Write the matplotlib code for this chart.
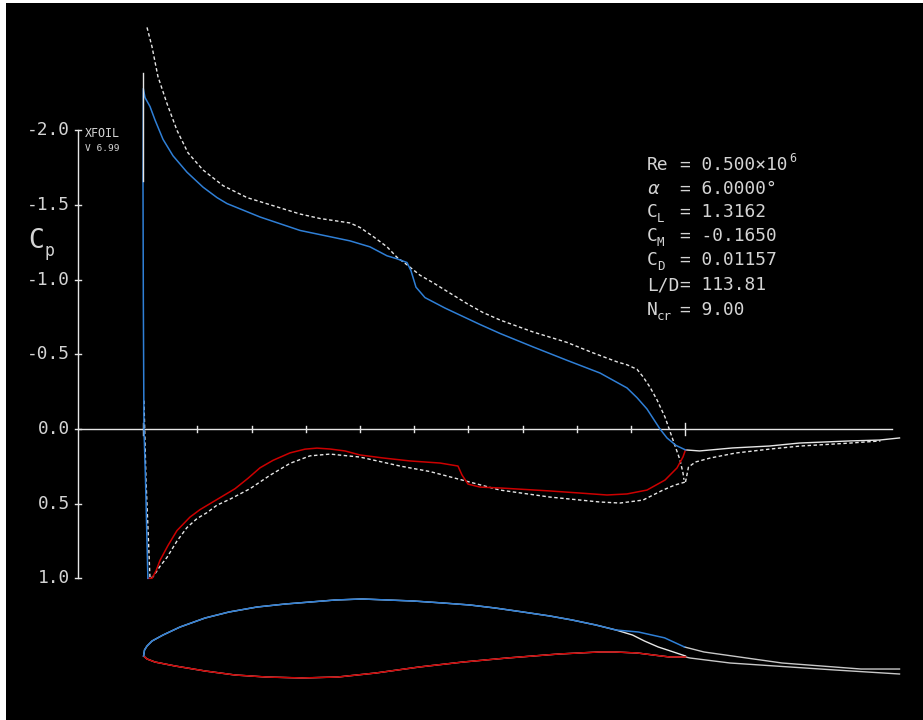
import matplotlib
matplotlib.use('Agg')
import matplotlib.pyplot as plt
import numpy as np

plt.rcParams.update({'font.family': 'DejaVu Sans Mono', 'font.size': 12.9})

# ---- geometry of the XFOIL screen (pixels) ----
W, H = 923, 720
LE_PX, CHORD_PX = 143.0, 542.5       # x/c = 0 at LE_PX, 1 chord = CHORD_PX px
CP0_PX, CP_PX = 429.0, 149.3         # Cp = 0 row and px per unit Cp
FOIL_PX = 656.0                      # y/c = 0 row for the airfoil sketch
BORDER_L, BORDER_T = 6, 3

INK = '#d4d4d4'
BLUE = '#2f7fd6'
RED = '#cc0000'
WHITE = '#e6e6e6'

# ---- Cp data (x/c, Cp) ----
# upper surface, viscous (blue)
up_x = [0.009, 0.0046, 0.0018, 0.0006, 0.0, 0.0006, 0.0037, 0.0129, 0.0221,
        0.0369, 0.0553, 0.0811, 0.1106, 0.1364, 0.1548, 0.2157, 0.2894, 0.3816,
        0.4184, 0.4498, 0.4682, 0.4866, 0.4940, 0.5032, 0.5198, 0.5567, 0.6212,
        0.6581, 0.7189, 0.7816, 0.8424, 0.8922, 0.9106, 0.9290, 0.9530, 0.9659,
        0.9825, 1.0]
up_cp = [1.0, 0.34, 0.0, -0.87, -1.66, -2.28, -2.22, -2.16, -2.07, -1.94, -1.83,
         -1.72, -1.62, -1.55, -1.51, -1.42, -1.33, -1.26, -1.22, -1.16, -1.14,
         -1.115, -1.06, -0.95, -0.88, -0.81, -0.70, -0.64, -0.55, -0.46, -0.375,
         -0.275, -0.21, -0.134, 0.0, 0.06, 0.11, 0.14]
# lower surface, viscous (red)
lo_x = [0.009, 0.0166, 0.0240, 0.0313, 0.0461, 0.0627, 0.0866, 0.1051, 0.1420,
        0.1696, 0.1936, 0.2157, 0.2396, 0.2710, 0.2986, 0.3207, 0.3447, 0.3724,
        0.4000, 0.4424, 0.4921, 0.5475, 0.5806, 0.5880, 0.5991, 0.6212, 0.6581,
        0.7502, 0.8055, 0.8553, 0.8922, 0.9290, 0.9622, 0.9843, 0.9954, 1.0]
lo_cp = [1.0, 1.0, 0.95, 0.88, 0.78, 0.68, 0.59, 0.54, 0.46, 0.40, 0.33, 0.26,
         0.21, 0.16, 0.135, 0.128, 0.134, 0.147, 0.174, 0.194, 0.214, 0.228,
         0.248, 0.308, 0.369, 0.389, 0.395, 0.415, 0.429, 0.442, 0.435, 0.409,
         0.342, 0.261, 0.187, 0.14]
# wake, viscous (white)
wk_x = [1.0, 1.0258, 1.0866, 1.1548, 1.2101, 1.3023, 1.3576, 1.3945]
wk_cp = [0.14, 0.147, 0.127, 0.114, 0.094, 0.080, 0.074, 0.060]
# inviscid upper (dashed)
iu_x = [0.0074, 0.0166, 0.0276, 0.0442, 0.0627, 0.0829, 0.1106, 0.1475, 0.1917,
        0.2894, 0.3263, 0.3816, 0.4000, 0.4240, 0.4498, 0.4682, 0.4866, 0.5106,
        0.5346, 0.5659, 0.5972, 0.6267, 0.6581, 0.7189, 0.7816, 0.8295, 0.8737,
        0.8922, 0.9106, 0.9217, 0.9346, 0.9475, 0.9622, 0.9770, 0.9899, 0.9954,
        0.9972]
iu_cp = [-2.69, -2.56, -2.36, -2.18, -2.00, -1.85, -1.735, -1.63, -1.55, -1.44,
         -1.41, -1.38, -1.35, -1.29, -1.22, -1.15, -1.10, -1.03, -0.98, -0.91,
         -0.84, -0.78, -0.73, -0.65, -0.58, -0.51, -0.45, -0.43, -0.40, -0.35,
         -0.28, -0.195, -0.08, 0.074, 0.208, 0.295, 0.34]
# inviscid lower (dashed)
il_x = [0.0018, 0.0055, 0.0129, 0.0184, 0.0313, 0.0442, 0.0627, 0.0811, 0.0995,
        0.1180, 0.1364, 0.1604, 0.1972, 0.2341, 0.2710, 0.3078, 0.3447, 0.4000,
        0.4737, 0.5290, 0.6581, 0.7502, 0.8424, 0.8792, 0.9217, 0.9585, 0.9806, 1.0]
il_cp = [-0.19, 0.34, 1.0, 0.99, 0.92, 0.86, 0.75, 0.66, 0.60, 0.56, 0.51, 0.47,
         0.40, 0.31, 0.23, 0.18, 0.168, 0.188, 0.248, 0.285, 0.409, 0.456, 0.489,
         0.496, 0.476, 0.409, 0.375, 0.355]
# inviscid wake (dashed)
iw_x = [1.0, 1.0055, 1.0184, 1.0460, 1.0922, 1.1566, 1.2120, 1.3041, 1.3594]
iw_cp = [0.355, 0.255, 0.221, 0.194, 0.161, 0.134, 0.114, 0.094, 0.080]
# leading-edge spike (white)
spike_x = [0.0, 0.0]
spike_cp = [-2.385, -1.66]

# ---- airfoil + displacement surfaces (x/c, y/c) ----
fu_x = [0.0011, 0.0028, 0.0074, 0.0166, 0.0369, 0.0682, 0.1143, 0.1585, 0.2102,
        0.2618, 0.3078, 0.3539, 0.4037, 0.4516, 0.4977, 0.5530, 0.6028, 0.6488,
        0.7005, 0.7502, 0.7908, 0.8350, 0.8719, 0.9023, 0.9244, 0.9498, 0.9724, 1.0]
fu_y = [0.0, 0.0111, 0.0184, 0.0276, 0.0387, 0.0534, 0.0700, 0.0811, 0.0903,
        0.0958, 0.0995, 0.1032, 0.1051, 0.1032, 0.1014, 0.0977, 0.0940, 0.0885,
        0.0811, 0.0737, 0.0664, 0.0571, 0.0479, 0.0387, 0.0276, 0.0166, 0.0092, 0.0]
ds_x = [0.8719, 0.9134, 0.9613, 0.9982]       # upper displacement surface near TE
ds_y = [0.0479, 0.0442, 0.0335, 0.0166]
fl_x = [0.0011, 0.0074, 0.0221, 0.0590, 0.1143, 0.1696, 0.2267, 0.2931, 0.3594,
        0.4295, 0.5088, 0.5899, 0.6710, 0.7668, 0.8406, 0.8700, 0.9115, 0.9410,
        0.9705, 1.0]
fl_y = [0.0, -0.0055, -0.0111, -0.0184, -0.0276, -0.0350, -0.0387, -0.0405,
        -0.0387, -0.0313, -0.0203, -0.0111, -0.0037, 0.0037, 0.0074, 0.0074,
        0.0055, 0.0018, -0.0018, -0.0018]
wu_x = [0.9982, 1.0341, 1.1779, 1.3235, 1.3945]   # wake, upper line
wu_y = [0.0166, 0.0074, -0.0129, -0.0240, -0.0240]
wl_x = [1.0, 1.0083, 1.0820, 1.2756, 1.3945]      # wake, lower line
wl_y = [-0.0018, -0.0037, -0.0129, -0.0258, -0.0332]

# ---- tick data ----
cp_ticks = [-2.0, -1.5, -1.0, -0.5, 0.0, 0.5, 1.0]
cp_tick_labels = ['-2.0', '-1.5', '-1.0', '-0.5', '0.0', '0.5', '1.0']
xc_ticks = np.round(np.arange(0, 1.01, 0.1), 1)


def bare(a):
    a.set_xticks([]); a.set_yticks([])
    for s in a.spines.values():
        s.set_visible(False)


# ---- figure ----
fig = plt.figure(figsize=(W / 100, H / 100), dpi=100, facecolor='white')
pos = [BORDER_L / W, 0, (W - BORDER_L) / W, (H - BORDER_T) / H]
ax = fig.add_axes(pos, facecolor='black')
ax.set_xlim((BORDER_L - LE_PX) / CHORD_PX, (W - LE_PX) / CHORD_PX)
ax.set_ylim((H - CP0_PX) / CP_PX, (BORDER_T - CP0_PX) / CP_PX)
bare(ax)

af = fig.add_axes(pos, facecolor='none')
af.set_xlim(ax.get_xlim())
af.set_ylim((FOIL_PX - H) / CHORD_PX, (FOIL_PX - BORDER_T) / CHORD_PX)
bare(af)

px = lambda n: n / CP_PX      # px -> Cp units
pxx = lambda n: n / CHORD_PX  # px -> x/c units

# axes
ax_x = (78 - LE_PX) / CHORD_PX
ax.plot([ax_x, ax_x], [cp_ticks[0], cp_ticks[-1]], color=WHITE, lw=1.0)
for t, lab in zip(cp_ticks, cp_tick_labels):
    ax.plot([ax_x - pxx(3), ax_x + pxx(3)], [t, t], color=WHITE, lw=1.0)
    ax.text(ax_x - pxx(8), t, lab, ha='right', va='center', color=INK, fontsize=12.9)
ax.plot([ax_x, (892 - LE_PX) / CHORD_PX], [0, 0], color=WHITE, lw=1.0)
for t in xc_ticks:
    h = 6 if t in (0.0, 1.0) else 3
    ax.plot([t, t], [-px(h), px(h)], color=WHITE, lw=1.0)

ax.text(ax_x - pxx(50), -1.26, 'C', ha='left', va='center', color=INK, fontsize=19)
ax.text(ax_x - pxx(34), -1.19, 'p', ha='left', va='center', color=INK, fontsize=12)
ax.text(ax_x + pxx(7), -1.98, 'XFOIL', ha='left', va='center', color=INK, fontsize=8.4)
ax.text(ax_x + pxx(7), -1.88, 'V 6.99', ha='left', va='center', color=INK, fontsize=6.8)

# Cp curves
dash = dict(color=WHITE, lw=1.0, dashes=(2.5, 1.8))
ax.plot(iu_x, iu_cp, **dash)
ax.plot(il_x, il_cp, **dash)
ax.plot(iw_x, iw_cp, **dash)
ax.plot(wk_x, wk_cp, color=WHITE, lw=1.0)
ax.plot(lo_x, lo_cp, color=RED, lw=1.1)
ax.plot(up_x, up_cp, color=BLUE, lw=1.1)
ax.plot(spike_x, spike_cp, color=WHITE, lw=1.0)

# airfoil: white geometry underneath, blue/red displacement surfaces on top
af.plot(wu_x, wu_y, color='#c8c8c8', lw=1.0)
af.plot(wl_x, wl_y, color='#c8c8c8', lw=1.0)
af.plot(fu_x, fu_y, color=WHITE, lw=1.0)
af.plot(fl_x, fl_y, color=WHITE, lw=1.0)
af.plot(fl_x, fl_y, color=RED, lw=1.1)
af.plot(fu_x[:-5] + ds_x, fu_y[:-5] + ds_y, color=BLUE, lw=1.1)

# operating-point block
rows_y = [165, 189, 212, 236, 260, 285, 310]
labels = ['Re', r'$\alpha$', 'C', 'C', 'C', 'L/D', 'N']
subs = ['', '', 'L', 'M', 'D', '', 'cr']
values = ['0.500×10', '6.0000°', '1.3162', '-0.1650', '0.01157', '113.81', '9.00']
lx = (647 - LE_PX) / CHORD_PX
ex = (680 - LE_PX) / CHORD_PX
for yy, lab, sub, val in zip(rows_y, labels, subs, values):
    cy = (yy - CP0_PX) / CP_PX
    ax.text(lx, cy, lab, ha='left', va='center', color=INK, fontsize=12.9)
    if sub:
        ax.text(lx + pxx(10), cy + px(6), sub, ha='left', va='center', color=INK, fontsize=9)
    ax.text(ex, cy, '= ' + val, ha='left', va='center', color=INK, fontsize=12.9)
ax.text((789 - LE_PX) / CHORD_PX, (158 - CP0_PX) / CP_PX, '6', ha='left',
        va='center', color=INK, fontsize=8.5)

fig.savefig('out.png', dpi=100, facecolor='white')
